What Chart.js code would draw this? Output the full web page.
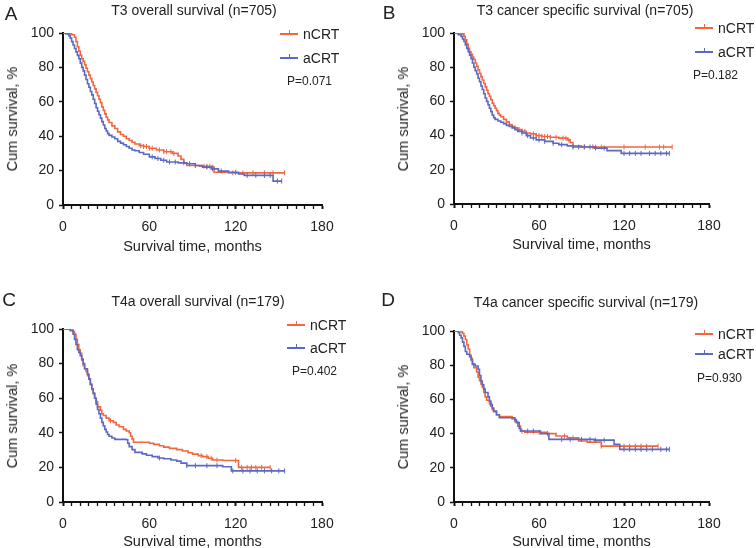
<!DOCTYPE html>
<html>
<head>
<meta charset="utf-8">
<script src="https://cdn.jsdelivr.net/npm/chart.js@4.4.1/dist/chart.umd.min.js"></script>
<style>
  body { margin: 0; background: #fff; font-family: "Liberation Sans", Arial, sans-serif; color: #222; }
  #wrap { position: relative; width: 756px; height: 548px; overflow: hidden; }
  canvas { position: absolute; }
  .c { position: absolute; white-space: nowrap; transform: translate(-50%, -50%); }
  .l { position: absolute; white-space: nowrap; transform: translateY(-50%); }
  .yt { position: absolute; white-space: nowrap; transform: translate(-50%, -50%) rotate(-90deg); font-size: 14.5px; }
  .sw { position: absolute; height: 2px; transform: translateY(-50%); }
  .sw i { position: absolute; left: 50%; top: -3px; width: 1px; height: 5px; background: inherit; }
</style>
</head>
<body>
<div id="wrap"></div>
<script>
// axis ticks
const monthTicks = [0, 60, 120, 180];
const survTicks = [0, 20, 40, 60, 80, 100];
const armNames = ['nCRT', 'aCRT'];

// A: T3 overall survival
const aN_t = [0, 4, 6, 8, 9, 10, 11, 12, 13, 14, 15, 16, 17, 18, 19, 20, 21, 22, 23, 24, 25, 26, 27, 28, 29, 30, 31, 32, 34, 36, 38, 40, 42, 44, 46, 48, 50, 53, 56, 60, 65, 70, 76, 80, 82, 84, 86, 95, 104, 105, 115, 154];
const aN_s = [100, 99.5, 99, 97.5, 95, 92, 89.5, 87, 85, 83.5, 81.5, 79.5, 77.5, 75.5, 73.5, 71.5, 69.5, 67.5, 65.5, 63.5, 61.5, 59.5, 57, 55, 53, 51, 49.5, 48, 46, 44.5, 42.5, 41, 40, 38.5, 37.5, 36.5, 35.5, 34.5, 34, 33, 32, 31, 30, 28.5, 26.5, 24.5, 23, 22.5, 22, 19, 18.7, 18.7];
const aN_c = [54, 56, 58, 60, 62, 67, 70, 72, 75, 77, 98, 100, 102, 104, 118, 125, 132, 140, 146, 154];
const aA_t = [0, 2, 4, 5, 6, 7, 8, 9, 10, 11, 12, 13, 14, 15, 16, 17, 18, 19, 20, 21, 22, 23, 24, 25, 26, 27, 28, 29, 30, 31, 32, 34, 36, 38, 40, 42, 44, 46, 48, 50, 53, 56, 60, 64, 68, 72, 80, 86, 92, 97, 103, 108, 115, 122, 126, 146, 152];
const aA_s = [100, 99.5, 98.5, 97, 95, 93, 91, 89, 87, 85, 82.5, 80, 78, 75.5, 73, 70.5, 68.5, 66, 64, 61.5, 59, 56.5, 54.5, 52.5, 50.5, 48.5, 46.5, 44.5, 43, 41.5, 40.5, 39.5, 38.5, 37, 36, 35, 34, 33, 32, 31.5, 30.5, 29.5, 28, 27, 26, 25, 24.5, 24, 23, 22, 21, 19.7, 19, 18, 17.2, 13.9, 13.9];
const aA_c = [62, 66, 70, 74, 78, 84, 88, 92, 100, 104, 110, 120, 128, 134, 140, 144, 149, 152];

// B: T3 cancer specific survival
const bN_t = [0, 5, 7, 8, 9, 10, 11, 12, 13, 14, 15, 16, 17, 18, 19, 20, 21, 22, 23, 24, 25, 26, 27, 28, 29, 30, 31, 32, 33, 35, 37, 39, 41, 43, 45, 48, 51, 54, 58, 62, 68, 74, 80, 82, 84, 90, 100, 154];
const bN_s = [100, 99.5, 98, 96, 93.5, 91, 89, 87.5, 86, 84.5, 82.5, 80.5, 78.5, 76.5, 74.5, 72.5, 70.5, 68.5, 66.5, 64.5, 63, 61, 59, 57.5, 56, 54.5, 53, 52, 51, 49.5, 48, 46.5, 45.5, 44.5, 43.5, 42.5, 41.5, 41, 40, 39.5, 39, 38.5, 37.5, 36, 34, 33.5, 33.3, 33.3];
const bN_c = [46, 50, 56, 58, 60, 62, 64, 66, 68, 72, 77, 79, 81, 92, 98, 100, 104, 120, 135, 145, 148, 154];
const bA_t = [0, 3, 5, 6, 7, 8, 9, 10, 11, 12, 13, 14, 15, 16, 17, 18, 19, 20, 21, 22, 23, 24, 25, 26, 27, 28, 29, 31, 33, 35, 37, 39, 41, 43, 45, 48, 51, 54, 58, 64, 70, 74, 80, 84, 99, 108, 118, 152];
const bA_s = [100, 99, 98, 96.5, 95, 93, 91, 89, 87, 85, 82.5, 80, 78, 76, 73.5, 71.5, 69, 67, 64.5, 62, 60, 58, 56, 54, 52, 50.5, 49.5, 48.5, 47.8, 47, 46, 45.4, 44.5, 43.5, 42.5, 41.5, 40, 38.6, 37.5, 36.6, 35.5, 34.7, 34, 33.3, 32.7, 31.2, 29.6, 29.6];
const bA_c = [48, 52, 56, 60, 64, 70, 76, 84, 88, 92, 96, 100, 106, 120, 124, 128, 132, 138, 142, 146, 150, 152];

// C: T4a overall survival
const cN_t = [0, 7, 8, 9, 10, 11, 12, 13, 14, 15, 16, 17, 18, 19, 20, 21, 22, 23, 24, 26, 27, 28, 30, 32, 35, 37, 39, 42, 44, 46, 47, 48, 49, 60, 63, 67, 70, 74, 79, 83, 87, 90, 94, 97, 101, 104, 111, 122, 144];
const cN_s = [100, 98.5, 97, 94, 91, 88, 86, 82, 79, 77, 75.5, 73, 71, 68, 65, 62.5, 60, 58, 55, 53, 51, 50, 48.5, 47, 46, 44.5, 43.5, 42, 41, 40, 38, 36.5, 34.5, 34, 33.3, 32.5, 31.7, 31, 30.3, 29.5, 28.5, 27.7, 26.8, 26.2, 25.3, 24.3, 24, 20, 20];
const cN_c = [33, 96, 100, 103, 107, 120, 124, 128, 131, 134, 138, 144];
const cA_t = [0, 5, 7, 8, 9, 10, 11, 12, 13, 14, 15, 17, 18, 19, 20, 21, 22, 23, 24, 25, 26, 27, 28, 29, 30, 31, 32, 34, 36, 44, 45, 46, 48, 50, 55, 58, 62, 66, 70, 75, 79, 82, 86, 111, 117, 154];
const cA_s = [100, 99, 97, 94, 91, 88, 86.5, 84.5, 82.7, 80, 77, 74, 71, 68, 65.5, 63, 60, 56.5, 53.5, 51, 48.5, 46, 44, 42, 40.5, 39, 38, 37, 36.2, 36, 34, 32, 30.3, 28.7, 27.8, 27, 26.2, 25.4, 25, 24.3, 23.6, 22.5, 21, 20.4, 18, 18];
const cA_c = [67, 86, 92, 100, 107, 118, 125, 130, 135, 140, 145, 150, 154];

// D: T4a cancer specific survival
const dN_t = [0, 5, 6, 7, 8, 9, 10, 11, 12, 13, 14, 16, 17, 18, 19, 20, 21, 22, 23, 25, 26, 27, 28, 30, 32, 41, 43, 45, 47, 50, 66, 72, 80, 88, 94, 104, 144];
const dN_s = [100, 99.5, 98.5, 97, 95, 92, 89.5, 86, 84, 81, 78.5, 76, 73, 71, 69, 67, 64, 61.5, 59.5, 58, 56, 54, 53, 51, 50, 48.5, 47, 44.4, 41.5, 40.8, 40, 38.6, 37.5, 35.7, 35, 32.7, 32.7];
const dN_c = [25, 48, 60, 66, 78, 84, 104, 120, 124, 128, 132, 136, 144];
const dA_t = [0, 3, 4, 5, 6, 7, 8, 9, 11, 12, 13, 15, 17, 18, 19, 20, 21, 22, 24, 25, 26, 27, 28, 30, 32, 43, 44, 46, 47, 61, 67, 99, 113, 117, 152];
const dA_s = [100, 99, 97.5, 96, 93.5, 91, 88, 86.4, 85, 83, 80.5, 79.5, 77.6, 74, 70.8, 68.5, 66, 64, 61.5, 59, 57, 55, 53, 51, 49.3, 48, 46.4, 43, 41.5, 40, 36.6, 36.2, 33.7, 30.8, 30.8];
const dA_c = [52, 56, 76, 82, 90, 96, 100, 106, 120, 124, 128, 132, 136, 140, 146, 150, 152];

const ORANGE = '#f2673f';
const BLUE = '#5b69c3';
const FONT = '"Liberation Sans", Arial, sans-serif';

const panels = [
    { letter: 'A', title: 'T3 overall survival (n=705)', p: 'P=0.071', x: 0, y: 0,
      left: 63, top: 33, right: 56, bottom: 205,
      arms: [[aN_t, aN_s, aN_c], [aA_t, aA_s, aA_c]],
      lx: 11, ly: 14, tx: 194, ty: 10, xty: 246, ytx: 12, sw: 280, legY: [34, 58], px: 287, py: 81 },
    { letter: 'B', title: 'T3 cancer specific survival (n=705)', p: 'P=0.182', x: 378, y: 0,
      left: 76, top: 33, right: 47, bottom: 204,
      arms: [[bN_t, bN_s, bN_c], [bA_t, bA_s, bA_c]],
      lx: 389, ly: 13, tx: 585, ty: 10, xty: 244, ytx: 403, sw: 695, legY: [28, 52], px: 693, py: 75 },
    { letter: 'C', title: 'T4a overall survival (n=179)', p: 'P=0.402', x: 0, y: 274,
      left: 63, top: 55, right: 56, bottom: 502,
      arms: [[cN_t, cN_s, cN_c], [cA_t, cA_s, cA_c]],
      lx: 9, ly: 300, tx: 198, ty: 301, xty: 541, ytx: 12, sw: 287, legY: [325, 348], px: 292, py: 371 },
    { letter: 'D', title: 'T4a cancer specific survival (n=179)', p: 'P=0.930', x: 378, y: 274,
      left: 76, top: 57, right: 47, bottom: 502,
      arms: [[dN_t, dN_s, dN_c], [dA_t, dA_s, dA_c]],
      lx: 388, ly: 300, tx: 586, ty: 302, xty: 541, ytx: 403, sw: 695, legY: [334, 354], px: 697, py: 378 }
];

const wrap = document.getElementById('wrap');

function addText(txt, cls, x, y, size) {
    const d = document.createElement('div');
    d.className = cls;
    d.textContent = txt;
    d.style.left = x + 'px';
    d.style.top = y + 'px';
    if (size) d.style.fontSize = size + 'px';
    wrap.appendChild(d);
    return d;
}

// survival value at time t from a step curve
function survAt(times, surv, t) {
    let s = surv[0];
    for (let i = 0; i < times.length; i++) {
        if (times[i] <= t) s = surv[i];
    }
    return s;
}

panels.forEach(pn => {
    const cv = document.createElement('canvas');
    cv.width = 378; cv.height = 274;
    cv.style.left = pn.x + 'px';
    cv.style.top = pn.y + 'px';
    wrap.appendChild(cv);

    const colors = [ORANGE, BLUE];
    const datasets = [];
    // blue first so orange sits on top
    [1, 0].forEach(k => {
        const [t, s, c] = pn.arms[k];
        datasets.push({
            label: armNames[k],
            data: t.map((v, i) => ({ x: v, y: s[i] })),
            stepped: true,
            borderColor: colors[k],
            borderWidth: 1.6,
            pointRadius: 0,
            fill: false
        });
        datasets.push({
            label: armNames[k] + ' censored',
            data: c.map(v => ({ x: v, y: survAt(t, s, v) })),
            showLine: false,
            pointStyle: 'line',
            rotation: 90,
            pointRadius: 2.5,
            borderColor: colors[k],
            borderWidth: 1,
            pointHoverRadius: 0
        });
    });

    const plotH = 274 - (pn.bottom - pn.y);
    new Chart(cv.getContext('2d'), {
        type: 'line',
        data: { datasets },
        options: {
            responsive: false,
            animation: false,
            events: [],
            layout: { padding: { left: 0, top: pn.top, right: pn.right, bottom: 0 } },
            plugins: { legend: { display: false }, tooltip: { enabled: false } },
            scales: {
                x: {
                    type: 'linear', min: 0, max: 180,
                    afterBuildTicks: s => { s.ticks = []; for (let v = 0; v <= 180; v += 6) s.ticks.push({ value: v }); },
                    ticks: {
                        autoSkip: false, maxRotation: 0, padding: 10, color: '#222',
                        font: { family: FONT, size: 14 },
                        callback: v => monthTicks.includes(v) ? String(v) : ''
                    },
                    grid: {
                        drawOnChartArea: false, tickLength: 4, tickColor: '#111',
                        tickWidth: c => (c.tick && monthTicks.includes(c.tick.value)) ? 2 : 1.3
                    },
                    border: { color: '#111', width: 2 },
                    afterFit: s => { s.height = plotH; }
                },
                y: {
                    min: 0, max: 100,
                    afterBuildTicks: s => { s.ticks = survTicks.map(v => ({ value: v })); },
                    ticks: { padding: 5, color: '#222', font: { family: FONT, size: 14 } },
                    grid: { drawOnChartArea: false, tickLength: 4, tickColor: '#111', tickWidth: 1.5 },
                    border: { color: '#111', width: 2 },
                    afterFit: s => { s.width = pn.left; }
                }
            }
        }
    });

    // panel letter, title, axis titles
    addText(pn.letter, 'c', pn.lx, pn.ly, 19);
    addText(pn.title, 'c', pn.tx, pn.ty, 14);
    const px0 = pn.x + pn.left, px1 = pn.x + 378 - pn.right;
    addText('Survival time, months', 'c', (px0 + px1) / 2, pn.xty, 14.5);
    addText('Cum survival, %', 'yt', pn.ytx, (pn.y + pn.top + pn.bottom) / 2);

    // legend
    [0, 1].forEach(k => {
        const sw = document.createElement('div');
        sw.className = 'sw';
        sw.style.left = pn.sw + 'px';
        sw.style.top = pn.legY[k] + 'px';
        sw.style.width = '18px';
        sw.style.background = colors[k];
        sw.appendChild(document.createElement('i'));
        wrap.appendChild(sw);
        addText(armNames[k], 'l', pn.sw + 23, pn.legY[k], 14);
    });
    addText(pn.p, 'l', pn.px, pn.py, 12);
});
</script>
</body>
</html>
